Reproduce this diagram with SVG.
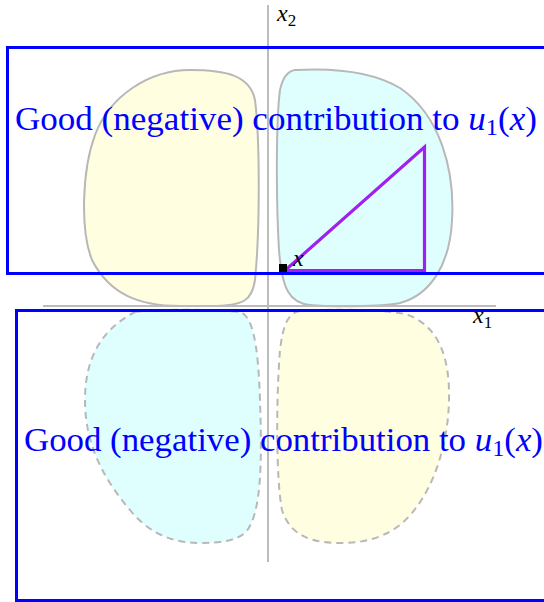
<svg xmlns="http://www.w3.org/2000/svg" width="544" height="602" viewBox="0 0 544 602">
<style>
.blob{stroke:#b8b8b8;stroke-width:2;}
.dash{stroke-dasharray:7 5;}
.yel{fill:#fffee0;}
.cya{fill:#dfffff;}
.axis{stroke:#bcbcbc;stroke-width:2;fill:none;}
.box{fill:none;stroke:#0000ff;stroke-width:3;}
.lbl{font-family:"Liberation Serif","DejaVu Serif",serif;fill:#0000ff;font-size:33px;}
.ax{font-family:"Liberation Serif","DejaVu Serif",serif;fill:#000;font-size:24px;}
.it{font-style:italic;}
</style>
<rect width="544" height="602" fill="#fff"/>
<g id="blob-top-left">
<path class="blob yel" d="M 190 70 C 225 70, 250 75, 255 100 C 260 140, 260 230, 255 280 C 252 300, 245 306, 210 306 L 180 306 C 140 306, 110 295, 92 260 C 80 230, 82 170, 95 135 C 110 95, 150 70, 190 70 Z"/>
</g>
<g id="blob-top-right">
<path class="blob cya" d="M 295 70 C 330 68, 370 70, 400 88 C 440 115, 455 170, 452 220 C 450 265, 430 295, 400 303 C 380 307, 330 307, 310 305 C 290 303, 282 290, 279 250 C 276 200, 276 120, 280 90 C 283 76, 288 71, 295 70 Z"/>
</g>
<g id="blob-bottom-left">
<path class="blob dash cya" d="M 135 312 C 160 309, 215 309, 240 312 C 252 316, 258 340, 260 400 C 262 460, 262 515, 245 533 C 235 541, 220 543, 200 543 C 175 543, 150 535, 130 510 C 100 475, 85 440, 85 400 C 85 360, 100 330, 135 312 Z"/>
</g>
<g id="blob-bottom-right">
<path class="blob dash yel" d="M 300 311 C 330 309, 380 309, 405 314 C 440 325, 450 360, 449 400 C 448 450, 430 500, 400 525 C 380 540, 360 543, 340 543 C 310 543, 290 535, 282 510 C 276 480, 276 400, 280 350 C 283 325, 288 313, 300 311 Z"/>
</g>
<g id="axes">
<line class="axis" x1="268" y1="5" x2="268" y2="562"/>
<line class="axis" x1="43" y1="306" x2="496" y2="306"/>
<text class="ax" x="277" y="21"><tspan class="it">x</tspan><tspan font-size="17" dy="5">2</tspan></text>
<text class="ax" x="473" y="323"><tspan class="it">x</tspan><tspan font-size="17" dy="5">1</tspan></text>
</g>
<g id="region-top">
<rect class="box" x="7.5" y="47.5" width="560" height="226"/>
<text class="lbl" x="15" y="130" textLength="522" lengthAdjust="spacingAndGlyphs">Good (negative) contribution to <tspan class="it">u</tspan><tspan font-size="23" dy="5">1</tspan><tspan dy="-5">(</tspan><tspan class="it">x</tspan>)</text>
</g>
<g id="region-bottom">
<rect class="box" x="16.5" y="310.5" width="560" height="290"/>
<text class="lbl" x="24" y="451" textLength="519" lengthAdjust="spacingAndGlyphs">Good (negative) contribution to <tspan class="it">u</tspan><tspan font-size="23" dy="5">1</tspan><tspan dy="-5">(</tspan><tspan class="it">x</tspan>)</text>
</g>
<g id="point-x">
<polygon points="285,270.5 424.5,147 424.5,270.5" fill="none" stroke="#a020f0" stroke-width="3.2" stroke-linejoin="miter"/>
<rect x="279" y="264" width="8" height="8" fill="#000"/>
<text class="ax it" x="293" y="266" font-size="30">x</text>
</g>
</svg>
